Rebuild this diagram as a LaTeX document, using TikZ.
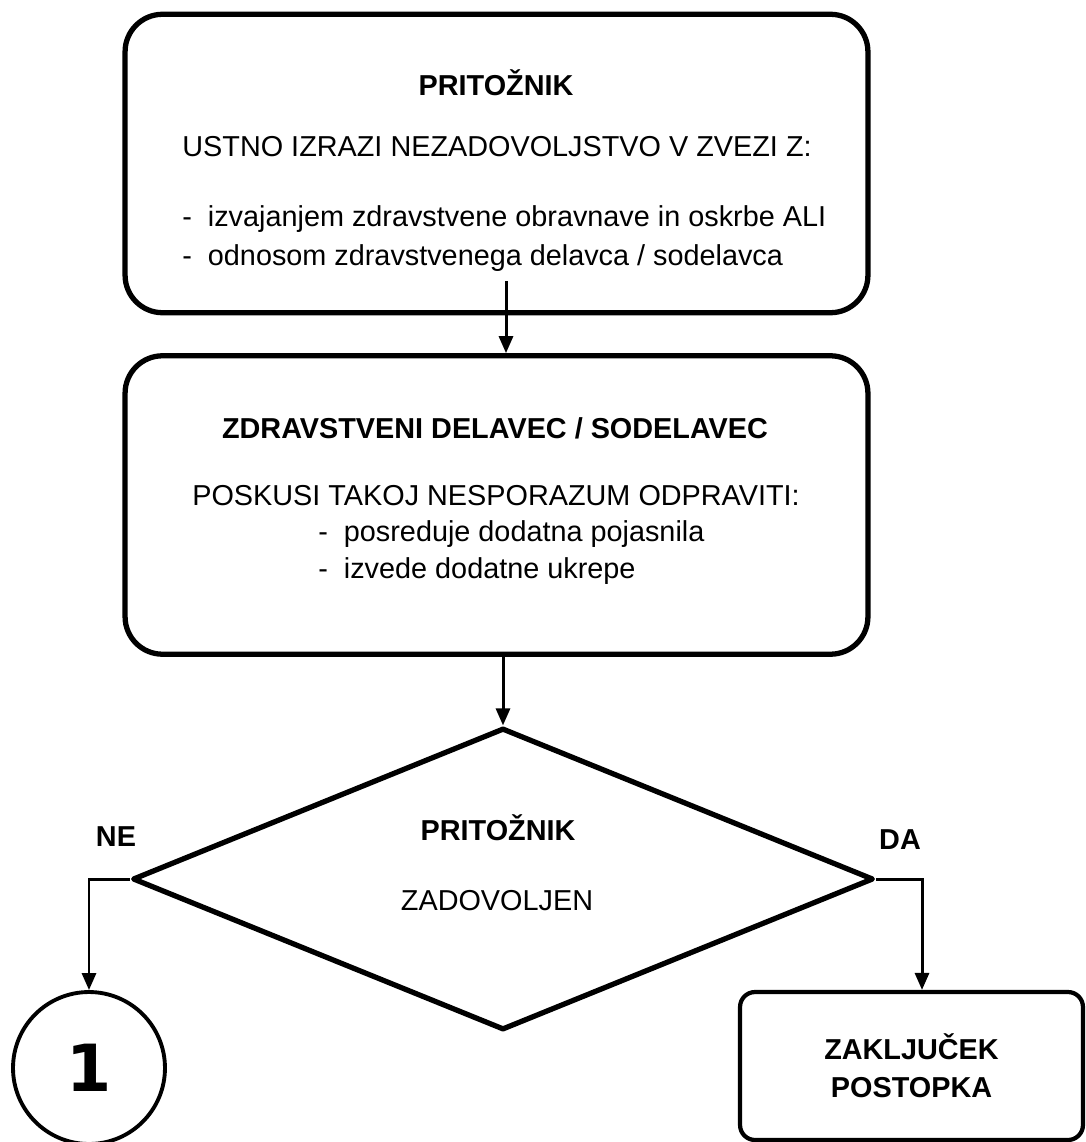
\documentclass[tikz,border=0pt]{standalone}
\usepackage{fontspec}
\setmainfont{Liberation Sans}
\newfontfamily\numfont{DejaVu Sans}
\usetikzlibrary{arrows.meta,shapes.geometric}

\begin{document}
\begin{tikzpicture}[
  x=0.02cm, y=-0.02cm,
  every node/.style={inner sep=0pt},
  box/.style={draw=black,line width=3pt,rounded corners=0.75cm,minimum width=14.86cm,minimum height=5.97cm},
  endbox/.style={draw=black,line width=2.4pt,rounded corners=0.3cm,minimum width=6.86cm,minimum height=2.96cm,align=center,font=\fontsize{16.4}{21.6}\selectfont\bfseries},
  decide/.style={diamond,draw=black,line width=3pt,line join=round,minimum width=14.82cm,minimum height=6.04cm},
  conn/.style={circle,draw=black,line width=2.2pt,minimum size=3.04cm,font=\numfont\bfseries\fontsize{37}{40}\selectfont},
  txt/.style={font=\fontsize{16.4}{20}\selectfont,anchor=base},
  ttl/.style={font=\fontsize{16.4}{20}\selectfont\bfseries,anchor=base},
  arr/.style={line width=1.7pt,-{Triangle[length=0.34cm,width=0.28cm]}},
]
  \useasboundingbox (0,0) rectangle (1085,1142);

  % ============ complaint ============
  \node[box] (b1) at (496.5,163.5) {};
  \node[ttl] (b1t) at (496,96) {PRITOŽNIK};
  \node[txt] (b1a) at (497,157) {USTNO IZRAZI NEZADOVOLJSTVO V ZVEZI Z:};
  \node[txt,anchor=base west] (b1b) at (182,227) {-~~izvajanjem zdravstvene obravnave in oskrbe ALI};
  \node[txt,anchor=base west] (b1c) at (182,265) {-~~odnosom zdravstvenega delavca / sodelavca};

  % ============ health worker ============
  \node[box] (b2) at (496.5,505) {};
  \node[ttl] (b2t) at (495,438) {ZDRAVSTVENI DELAVEC / SODELAVEC};
  \node[txt] (b2a) at (496,505) {POSKUSI TAKOJ NESPORAZUM ODPRAVITI:};
  \node[txt,anchor=base west] (b2b) at (318,541) {-~~posreduje dodatna pojasnila};
  \node[txt,anchor=base west] (b2c) at (318,578) {-~~izvede dodatne ukrepe};

  % ============ decision ============
  \node[decide] (dia) at (503,879) {};
  \node[ttl] (dt) at (498,840) {PRITOŽNIK};
  \node[txt] (da) at (497,910) {ZADOVOLJEN};
  \node[ttl] (ne) at (116,846) {NE};
  \node[ttl] (yes) at (900,849) {DA};

  % ============ outcomes ============
  \node[conn] (one) at (89,1068) {1};
  \node[endbox] (fin) at (911.5,1066) {ZAKLJUČEK\\POSTOPKA};

  % arrows
  \coordinate (b1out) at (506,281);
  \draw[arr] (b1out) -- (b1out |- b2.north);
  \draw[arr] (dia.north |- b2.south) -- (dia.north);
  \draw[arr] (dia.west) -| (one.north);
  \draw[arr] (dia.east) -| ([xshift=0.21cm]fin.north);
\end{tikzpicture}
\end{document}
